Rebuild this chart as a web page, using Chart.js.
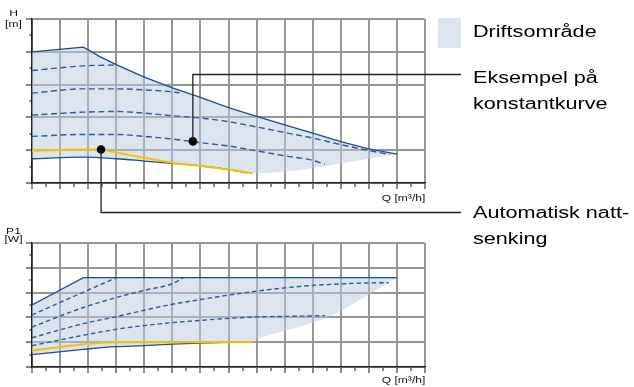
<!DOCTYPE html>
<html>
<head>
<meta charset="utf-8">
<script src="https://cdn.jsdelivr.net/npm/chart.js@4.4.1/dist/chart.umd.min.js"></script>
<style>
  body { margin: 0; background: #fff; width: 634px; height: 387px; overflow: hidden; position: relative;
         font-family: 'Liberation Sans', Arial, sans-serif; color: #000; }
  canvas { position: absolute; left: 0; }
  #hChart { top: 0; }
  #pChart { top: 220px; }
  .lbl { position: absolute; white-space: nowrap; line-height: 1; }
  .small { font-size: 9.5px; transform: scaleX(1.27); color: #111; }
  .axc { left: 0; width: 27px; text-align: center; }
  .q { right: 209px; transform-origin: right top; }
  .big { left: 473px; font-size: 17.3px; transform: scaleX(1.25); transform-origin: left top; }
  .swatch { position: absolute; left: 438px; top: 18px; width: 23px; height: 30px; background: #dce4f0; }
</style>
</head>
<body>
<canvas id="hChart" width="634" height="220"></canvas>
<canvas id="pChart" width="634" height="167"></canvas>

<div class="lbl small axc" style="top:7.5px">H</div>
<div class="lbl small axc" style="top:19px">[m]</div>
<div class="lbl small q" style="top:192.5px">Q [m³/h]</div>
<div class="lbl small axc" style="top:225.5px">P1</div>
<div class="lbl small axc" style="top:234px">[W]</div>
<div class="lbl small q" style="top:375px">Q [m³/h]</div>

<div class="swatch"></div>
<div class="lbl big" style="top:22.5px">Driftsområde</div>
<div class="lbl big" style="top:68.5px">Eksempel på</div>
<div class="lbl big" style="top:94.5px">konstantkurve</div>
<div class="lbl big" style="top:203.5px">Automatisk natt-</div>
<div class="lbl big" style="top:229.5px">senking</div>

<script>
// Q in grid divisions (0..14), H and P1 in grid divisions (0..5)
const qMax = 14;
const vMax = 5;

// ---- H chart ----
const hMaxQ = [0, 1.83, 2.4, 3, 4, 5, 6, 7, 8, 9, 10, 11, 12, 13];
const hMaxH = [4.0, 4.14, 3.86, 3.61, 3.23, 2.9, 2.61, 2.3, 2.03, 1.77, 1.52, 1.26, 1.04, 0.88];
const hMinQ = [0, 1.83, 3, 4, 5, 6, 7, 7.64];
const hMinH = [0.74, 0.79, 0.74, 0.67, 0.6, 0.52, 0.41, 0.31];
const hEdgeQ = [7.85, 13];
const hEdgeH = [0.30, 0.88];
const hNightQ = [0, 1.83, 2.46, 3, 4, 5, 6, 7, 7.85];
const hNightH = [0.98, 1.02, 1.02, 0.93, 0.77, 0.62, 0.52, 0.41, 0.30];
const hC1Q = [0, 1.83, 3];
const hC1H = [3.43, 3.57, 3.6];
const hC2Q = [0, 1.83, 3, 4, 5, 5.25];
const hC2H = [2.74, 2.87, 2.87, 2.84, 2.78, 2.75];
const hC3Q = [0, 1.83, 3, 4, 5, 6, 7, 8, 9, 10, 11, 12, 12.74];
const hC3H = [2.07, 2.16, 2.18, 2.13, 2.05, 1.98, 1.87, 1.71, 1.54, 1.37, 1.17, 0.99, 0.87];
const hC4Q = [0, 1.83, 3, 4, 5, 6, 7, 8, 9, 10, 10.43];
const hC4H = [1.42, 1.48, 1.48, 1.42, 1.34, 1.23, 1.13, 0.98, 0.83, 0.69, 0.57];
const dotQ = [5.73, 2.46];   // example curve, night mode
const dotH = [1.27, 1.02];

// ---- P1 chart ----
const pMaxQ = [0, 1.83, 13];
const pMaxP = [2.5, 3.6, 3.6];
const pMinQ = [0, 1.83, 3, 4, 5, 6, 7, 7.64];
const pMinP = [0.5, 0.71, 0.82, 0.86, 0.92, 0.96, 0.99, 1.0];
const pEdgeQ = [7.85, 8, 9, 10, 11, 12, 13];
const pEdgeP = [1.0, 1.11, 1.45, 1.78, 2.26, 2.92, 3.6];
const pNightQ = [0, 1.83, 2.46, 3, 7.85];
const pNightP = [0.67, 0.92, 0.98, 1.0, 1.0];
const pC1Q = [0, 1.83, 3];
const pC1P = [2.1, 3.02, 3.6];
const pC2Q = [0, 1.83, 3, 4, 5, 5.4];
const pC2P = [1.61, 2.4, 2.8, 3.09, 3.36, 3.6];
const pC3Q = [0, 1.83, 3, 4, 5, 6, 7, 8, 9, 10, 11, 12, 12.7];
const pC3P = [1.18, 1.75, 2.03, 2.29, 2.53, 2.72, 2.9, 3.06, 3.19, 3.29, 3.35, 3.39, 3.4];
const pC4Q = [0, 1.83, 3, 4, 5, 6, 7, 8, 9, 10, 10.43];
const pC4P = [0.86, 1.28, 1.52, 1.67, 1.79, 1.88, 1.96, 2.02, 2.04, 2.06, 2.07];

const blue = '#1d4f91';
const dashBlue = '#2b5a9b';
const yellow = '#f3c300';
const areaFill = 'rgba(185, 201, 226, 0.5)';

const pts = (qs, vs) => qs.map((q, i) => ({x: q, y: vs[i]}));

function solid(data, color, width) {
  return {data, borderColor: color, borderWidth: width, pointRadius: 0, fill: false,
          cubicInterpolationMode: 'monotone'};
}
function dashed(data, dash) {
  return {data, borderColor: dashBlue, borderWidth: 1.4, borderDash: dash, pointRadius: 0,
          fill: false, cubicInterpolationMode: 'monotone'};
}

const isMajor = c => c.tick && c.tick.value % 1 === 0;

function axis(max, minorDash) {
  return {
    type: 'linear', min: 0, max: max,
    ticks: {display: false, stepSize: 0.5, maxTicksLimit: 100},
    grid: {
      color: c => isMajor(c) ? '#969696' : 'rgba(0,0,0,0)',
      lineWidth: 2,
      tickLength: 6,
      tickColor: '#4a4a4a',
      tickWidth: 1.3,
      tickBorderDash: c => (c.tick && !isMajor(c)) ? minorDash : []
    },
    border: {color: '#222', width: 1.6}
  };
}

function baseOptions(padding) {
  return {
    responsive: false,
    animation: false,
    events: [],
    layout: {padding},
    scales: {x: axis(qMax, [3.5, 40]), y: axis(vMax, [0, 3.5, 2.5, 40])},
    plugins: {legend: {display: false}, tooltip: {enabled: false},
              filler: {drawTime: 'beforeDatasetsDraw'}}
  };
}

// leader lines from the marked points to the texts on the right
const leaders = {
  id: 'leaders',
  afterDatasetsDraw(chart) {
    const {ctx, scales: {x, y}} = chart;
    const textX = 461;
    ctx.save();
    ctx.strokeStyle = '#222';
    ctx.lineWidth = 1.3;
    const ex = x.getPixelForValue(dotQ[0]), ey = y.getPixelForValue(dotH[0]);
    ctx.beginPath(); ctx.moveTo(ex, ey); ctx.lineTo(ex, 74.5); ctx.lineTo(textX, 74.5); ctx.stroke();
    const nx = x.getPixelForValue(dotQ[1]), ny = y.getPixelForValue(dotH[1]);
    ctx.beginPath(); ctx.moveTo(nx, ny); ctx.lineTo(nx, 212.5); ctx.lineTo(textX, 212.5); ctx.stroke();
    ctx.restore();
  }
};

new Chart(document.getElementById('hChart'), {
  type: 'line',
  data: {datasets: [
    {data: pts(dotQ, dotH), showLine: false, pointRadius: 4.3, pointBackgroundColor: '#000',
     pointBorderWidth: 0, fill: false},
    solid(pts(hNightQ, hNightH), yellow, 2),
    solid(pts(hMinQ, hMinH), blue, 1.3),
    dashed(pts(hC1Q, hC1H), [6, 3.5]),
    dashed(pts(hC2Q, hC2H), [6, 3.5]),
    dashed(pts(hC3Q, hC3H), [6, 3.5]),
    dashed(pts(hC4Q, hC4H), [6, 3.5]),
    Object.assign(solid(pts(hMaxQ, hMaxH), blue, 1.3),
                  {cubicInterpolationMode: 'default', tension: 0, fill: {target: 8}, backgroundColor: areaFill}),
    solid(pts(hMinQ, hMinH).concat(pts(hEdgeQ, hEdgeH)), 'rgba(0,0,0,0)', 0)
  ]},
  options: baseOptions({left: 26, top: 19, right: 209, bottom: 31}),
  plugins: [leaders]
});

new Chart(document.getElementById('pChart'), {
  type: 'line',
  data: {datasets: [
    Object.assign(solid(pts(pNightQ, pNightP), yellow, 2), {cubicInterpolationMode: 'default', tension: 0.2}),
    solid(pts(pMinQ, pMinP), blue, 1.3),
    dashed(pts(pC1Q, pC1P), [4.5, 3]),
    dashed(pts(pC2Q, pC2P), [4.5, 3]),
    dashed(pts(pC3Q, pC3P), [4.5, 3]),
    dashed(pts(pC4Q, pC4P), [4.5, 3]),
    Object.assign(solid(pts(pMaxQ, pMaxP), blue, 1.3),
                  {cubicInterpolationMode: 'default', tension: 0, fill: {target: 7}, backgroundColor: areaFill}),
    solid(pts(pMinQ, pMinP).concat(pts(pEdgeQ, pEdgeP)), 'rgba(0,0,0,0)', 0)
  ]},
  options: baseOptions({left: 26, top: 23, right: 209, bottom: 14})
});
</script>
</body>
</html>
